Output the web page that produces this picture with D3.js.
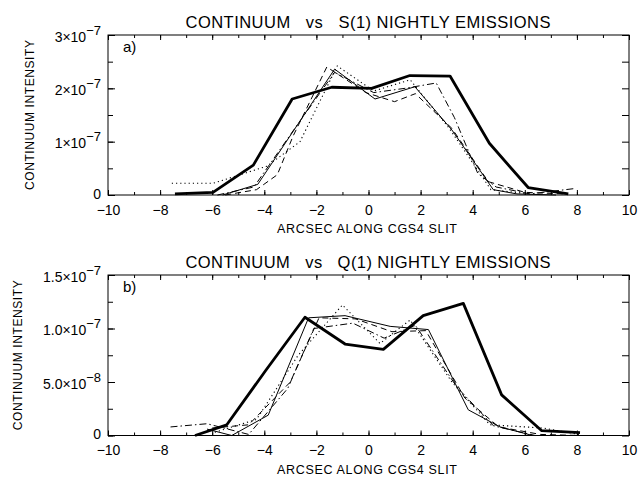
<!DOCTYPE html>
<html><head><meta charset="utf-8">
<script src="https://cdn.jsdelivr.net/npm/d3@7/dist/d3.min.js"></script>
<style>body{margin:0;background:#fff}svg{display:block}text{white-space:pre}</style>
</head><body><svg id="c" width="639" height="477"></svg>
<script>
// ---- data ----
const xTicks = [-10,-8,-6,-4,-2,0,2,4,6,8,10];
const xMinorTicks = d3.range(-10, 11, 1);
const xTickLabels = ["−10","−8","−6","−4","−2","0","2","4","6","8","10"];

const yTicksA = [0, 1e-7, 2e-7, 3e-7];
const yMinorA = [0, 0.5e-7, 1e-7, 1.5e-7, 2e-7, 2.5e-7, 3e-7];
const yMantA = ["0", "1×10", "2×10", "3×10"];
const yExpA = ["", "−7", "−7", "−7"];

const yTicksB = [0, 5e-8, 1e-7, 1.5e-7];
const yMinorB = [0, 2.5e-8, 5e-8, 7.5e-8, 1e-7, 1.25e-7, 1.5e-7];
const yMantB = ["0", "5.0×10", "1.0×10", "1.5×10"];
const yExpB = ["", "−8", "−7", "−7"];

const titleA = "CONTINUUM   vs   S(1) NIGHTLY EMISSIONS";
const titleB = "CONTINUUM   vs   Q(1) NIGHTLY EMISSIONS";
const xTitle = "ARCSEC ALONG CGS4 SLIT";
const yTitle = "CONTINUUM INTENSITY";

// top panel (units 1e-7)
const thickAx = [-7.43,-5.97,-4.42,-2.93,-1.41,0.12,1.59,3.13,4.64,6.13,7.67];
const thickAy = [0.02,0.05,0.56,1.80,2.02,2.00,2.24,2.23,0.97,0.14,0.02];
const thinAx = [-5.6,-4.25,-1.3,0.25,1.78,3.2,4.79,5.7,7.2];
const thinAy = [0,0.2,2.36,1.80,2.03,1.22,0.10,0.02,0];
const dotAx = [-7.55,-5.96,-3.9,-2.63,-1.2,0.2,1.6,3.1,4.7,6.2];
const dotAy = [0.22,0.22,0.54,1.0,2.42,1.95,2.16,1.25,0.10,0.02];
const dashAx = [-5.5,-4.3,-3.5,-2.9,-1.6,-0.1,1.0,1.8,3.2,4.6,6.0,7.5];
const dashAy = [0,0.1,0.38,1.1,2.40,1.92,1.75,1.90,1.25,0.25,0.05,0.02];
const dashdotAx = [-5.8,-4.4,-2.9,-1.3,0.2,1.4,2.6,3.3,4.2,4.9,6.2,7.9];
const dashdotAy = [0,0.15,1.2,2.30,1.92,2.0,2.10,1.45,0.4,0.15,0.02,0.12];

// bottom panel (units 1e-8)
const thickBx = [-6.66,-5.44,-3.94,-2.44,-0.9,0.57,2.1,3.64,5.11,6.65,8.12];
const thickBy = [0,1.0,6.1,11.05,8.55,8.05,11.2,12.35,3.8,0.45,0.26];
const thinBx = [-6.2,-5.25,-3.85,-2.3,-0.9,0.83,2.3,3.83,5.05,6.3,7.8];
const thinBy = [0.6,0,1.9,11.0,11.2,10.2,9.9,2.4,0.8,0,0];
const dotBx = [-5.9,-4.3,-2.7,-1.0,0.44,1.6,3.2,4.66,6.7,8.1];
const dotBy = [0.3,1.5,7.5,12.2,8.6,10.8,5.0,1.0,0.7,0.1];
const dashBx = [-6.0,-4.6,-3.0,-1.9,-0.5,0.9,2.2,3.7,5.0,6.6,8.1];
const dashBy = [0.7,1.0,5.0,11.0,10.9,9.7,9.8,3.5,0.8,0.1,0];
const dashdotBx = [-7.6,-6.2,-4.6,-3.1,-2.1,-0.6,0.6,1.8,3.4,4.8,6.4,8.0];
const dashdotBy = [0.8,1.1,0.1,4.4,10.0,10.5,9.1,10.3,4.5,0.9,0,0];

// ---- drawing ----
const svg = d3.select("#c");
const FONT = "'Liberation Sans', Arial, sans-serif";

const styles = {
  thick: {w: 2.8, dash: null},
  thin: {w: 1, dash: null},
  dot: {w: 1.1, dash: "1.2,3"},
  dash: {w: 1, dash: "6,4"},
  dashdot: {w: 1, dash: "7,3,1.5,3"}
};

function panel(cfg) {
  const L = 108, R = 629;
  const x = d3.scaleLinear().domain([-10, 10]).range([L, R]);
  const y = d3.scaleLinear().domain([0, cfg.ymax]).range([cfg.bottom, cfg.top]);
  const g = svg.append("g");

  g.append("rect").attr("x", L).attr("y", cfg.top).attr("width", R - L).attr("height", cfg.bottom - cfg.top)
    .attr("fill", "none").attr("stroke", "#000").attr("stroke-width", 1);

  const styleAxis = sel => { sel.select(".domain").remove(); sel.selectAll("line").attr("stroke", "#000"); };

  g.append("g").attr("transform", `translate(0,${cfg.bottom})`)
    .call(d3.axisBottom(x).tickValues(xMinorTicks).tickSize(-3).tickFormat(() => "")).call(styleAxis);
  g.append("g").attr("transform", `translate(0,${cfg.top})`)
    .call(d3.axisTop(x).tickValues(xMinorTicks).tickSize(-3).tickFormat(() => "")).call(styleAxis);
  g.append("g").attr("transform", `translate(0,${cfg.top})`)
    .call(d3.axisTop(x).tickValues(xTicks).tickSize(-5).tickFormat(() => "")).call(styleAxis);
  const xb = g.append("g").attr("transform", `translate(0,${cfg.bottom})`)
    .call(d3.axisBottom(x).tickValues(xTicks).tickSize(-5).tickPadding(17)
      .tickFormat((d, i) => xTickLabels[i])).call(styleAxis);
  xb.selectAll("text").attr("font-family", FONT).attr("font-size", 14).attr("fill", "#000")
    .attr("dy", "0.2em");

  g.append("g").attr("transform", `translate(${L},0)`)
    .call(d3.axisLeft(y).tickValues(cfg.yMinor).tickSize(-5).tickFormat(() => "")).call(styleAxis);
  g.append("g").attr("transform", `translate(${R},0)`)
    .call(d3.axisRight(y).tickValues(cfg.yMinor).tickSize(-7).tickFormat(() => "")).call(styleAxis);
  const yl = g.append("g").attr("transform", `translate(${L},0)`)
    .call(d3.axisLeft(y).tickValues(cfg.yTicks).tickSize(-7).tickFormat(() => "")).call(styleAxis);
  yl.selectAll(".tick text").remove();
  yl.selectAll(".tick").each(function(d, i) {
    const t = d3.select(this).append("text")
      .attr("x", -7).attr("y", cfg.yExp[i] ? 6 : 3)
      .attr("text-anchor", "end").attr("font-family", FONT).attr("font-size", 14).attr("fill", "#000");
    t.append("tspan").text(cfg.yMant[i]);
    if (cfg.yExp[i]) t.append("tspan").attr("dy", -7).attr("font-size", 13).text(cfg.yExp[i]);
  });

  g.append("text").attr("x", 368).attr("y", cfg.top - 7).attr("text-anchor", "middle")
    .attr("font-family", FONT).attr("font-size", 16.5).attr("textLength", 365).attr("lengthAdjust", "spacing")
    .attr("xml:space", "preserve").text(cfg.title);
  g.append("text").attr("x", 367).attr("y", cfg.bottom + 38).attr("text-anchor", "middle")
    .attr("font-family", FONT).attr("font-size", 12.5).attr("textLength", 180).attr("lengthAdjust", "spacing")
    .text(xTitle);
  g.append("text").attr("transform", `translate(${cfg.ytx},${(cfg.top + cfg.bottom) / 2}) rotate(-90)`)
    .attr("text-anchor", "middle").attr("font-family", FONT).attr("font-size", 12)
    .attr("textLength", 150).attr("lengthAdjust", "spacing").text(yTitle);
  g.append("text").attr("x", 123).attr("y", cfg.top + 17).attr("font-family", FONT).attr("font-size", 15)
    .text(cfg.label);

  const line = d3.line().x(d => x(d[0])).y(d => y(d[1] * cfg.unit));
  cfg.series.forEach(s => {
    const pts = s.x.map((v, i) => [v, s.y[i]]);
    const st = styles[s.style];
    g.append("path").attr("d", line(pts)).attr("fill", "none").attr("stroke", "#000")
      .attr("stroke-width", st.w).attr("stroke-linejoin", "round")
      .attr("stroke-dasharray", st.dash);
  });
}

panel({
  top: 35, bottom: 195, ymax: 3e-7, unit: 1e-7,
  yTicks: yTicksA, yMinor: yMinorA, yMant: yMantA, yExp: yExpA,
  title: titleA, label: "a)", ytx: 34,
  series: [
    {x: dotAx, y: dotAy, style: "dot"},
    {x: dashAx, y: dashAy, style: "dash"},
    {x: dashdotAx, y: dashdotAy, style: "dashdot"},
    {x: thinAx, y: thinAy, style: "thin"},
    {x: thickAx, y: thickAy, style: "thick"}
  ]
});
panel({
  top: 275, bottom: 435.5, ymax: 1.5e-7, unit: 1e-8,
  yTicks: yTicksB, yMinor: yMinorB, yMant: yMantB, yExp: yExpB,
  title: titleB, label: "b)", ytx: 22,
  series: [
    {x: dotBx, y: dotBy, style: "dot"},
    {x: dashBx, y: dashBy, style: "dash"},
    {x: dashdotBx, y: dashdotBy, style: "dashdot"},
    {x: thinBx, y: thinBy, style: "thin"},
    {x: thickBx, y: thickBy, style: "thick"}
  ]
});
</script></body></html>
